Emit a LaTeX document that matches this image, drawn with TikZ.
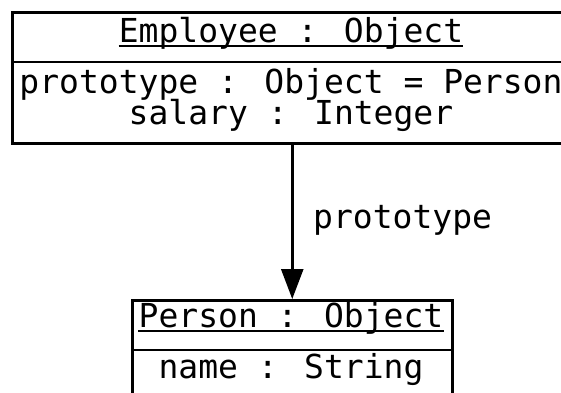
\documentclass[tikz,border=0pt]{standalone}
\usepackage{fontspec}
\setmainfont{DejaVu Sans Mono}
\usetikzlibrary{arrows.meta}
\begin{document}
\begin{tikzpicture}[x=1pt,y=1pt,
  box/.style={draw, line width=2.5pt, inner sep=0pt, rectangle},
  txt/.style={inner sep=0pt, anchor=base, font=\fontsize{33}{40}\selectfont},
  uline/.style={line width=2.5pt},
  sep/.style={line width=2.5pt},
  conn/.style={line width=2.5pt, -{Triangle[width=22pt,length=30pt]}}]
\useasboundingbox (0,0) rectangle (561,-392);
\clip (0,0) rectangle (561,-392);
% Employee box
\node[box, minimum width=560pt, minimum height=131pt, anchor=north west] (emp) at (11,-11) {};
\coordinate (empsep) at (291,-62);
\draw[sep] (emp.west |- empsep) -- (emp.east |- empsep);
\node[txt] (empname) at (291,-42) {Employee : Object};
\draw[uline] ([yshift=-4pt]empname.base west) -- ([yshift=-4pt]empname.base east);
\node[txt] (empa1) at (291,-93) {prototype : Object = Person};
\node[txt] (empa2) at (291,-124) {salary : Integer};
% Person box
\node[box, minimum width=320pt, minimum height=130pt, anchor=north west] (per) at (131,-299) {};
\coordinate (persep) at (291,-350);
\draw[sep] (per.west |- persep) -- (per.east |- persep);
\node[txt] (pername) at (291,-327) {Person : Object};
\draw[uline] ([yshift=-4pt]pername.base west) -- ([yshift=-4pt]pername.base east);
\node[txt] (pera1) at (291,-378) {name : String};
% connector
\draw[conn] (emp.south) -- (per.north);
\node[txt, anchor=base west] (lbl) at (313,-228) {prototype};
\end{tikzpicture}
\end{document}
